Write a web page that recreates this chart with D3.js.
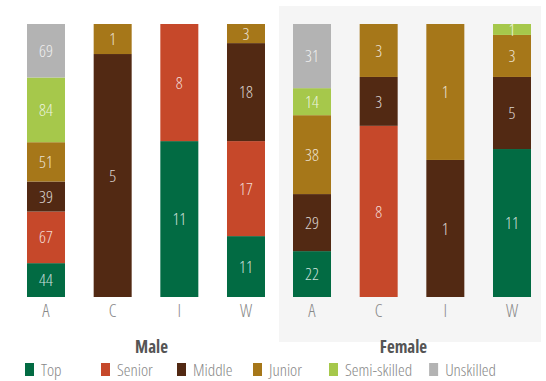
<!DOCTYPE html>
<html><head><meta charset="utf-8">
<script src="https://cdn.jsdelivr.net/npm/d3@7"></script>
<style>
html,body{margin:0;padding:0;background:#fff;}
svg{display:block;font-family:"Open Sans",sans-serif;font-stretch:82%;font-weight:300;}
</style></head>
<body><svg id="c" width="546" height="381"></svg>
<script>
const categories = ["A","C","I","W"];
const levels = ["Top","Senior","Middle","Junior","Semi-skilled","Unskilled"];
const colors = ["#026B43","#C6482A","#522913","#A67719","#A6C84B","#B3B3B3"];
const panels = ["Male","Female"];

// share of each bar (percent), per level, categories A,C,I,W
const maleTop       = [12.4, 0,    57.1, 22.3];
const maleSenior    = [18.9, 0,    42.9, 34.8];
const maleMiddle    = [11.0, 89.0, 0,    35.9];
const maleJunior    = [14.4, 11.0, 0,    7.0];
const maleSemi      = [23.7, 0,    0,    0];
const maleUnskilled = [19.6, 0,    0,    0];

const femaleTop       = [16.8, 0,    0,    54.2];
const femaleSenior    = [0,    62.7, 0,    0];
const femaleMiddle    = [20.9, 17.9, 50.2, 26.4];
const femaleJunior    = [28.9, 19.4, 49.8, 15.4];
const femaleSemi      = [9.9,  0,    0,    4.0];
const femaleUnskilled = [23.5, 0,    0,    0];

// counts shown as labels
const maleTopN       = [44, 0, 11, 11];
const maleSeniorN    = [67, 0, 8, 17];
const maleMiddleN    = [39, 5, 0, 18];
const maleJuniorN    = [51, 1, 0, 3];
const maleSemiN      = [84, 0, 0, 0];
const maleUnskilledN = [69, 0, 0, 0];

const femaleTopN       = [22, 0, 0, 11];
const femaleSeniorN    = [0, 8, 0, 0];
const femaleMiddleN    = [29, 3, 1, 5];
const femaleJuniorN    = [38, 3, 1, 3];
const femaleSemiN      = [14, 0, 0, 1];
const femaleUnskilledN = [31, 0, 0, 0];

const shares = {
  Male:   [maleTop, maleSenior, maleMiddle, maleJunior, maleSemi, maleUnskilled],
  Female: [femaleTop, femaleSenior, femaleMiddle, femaleJunior, femaleSemi, femaleUnskilled]
};
const counts = {
  Male:   [maleTopN, maleSeniorN, maleMiddleN, maleJuniorN, maleSemiN, maleUnskilledN],
  Female: [femaleTopN, femaleSeniorN, femaleMiddleN, femaleJuniorN, femaleSemiN, femaleUnskilledN]
};

const svg = d3.select("#c");
const y = d3.scaleLinear().domain([0,100]).range([297,24]);
const panelRanges = {Male:[12.67,279.33], Female:[278.67,545.33]};
const titleX = {Male:151.5, Female:403.5};

// female background
svg.append("rect").attr("x",279).attr("y",6).attr("width",262).attr("height",336).attr("fill","#f5f5f5");

panels.forEach(p => {
  const x = d3.scaleBand().domain(categories).range(panelRanges[p]).paddingInner(0.43).paddingOuter(0.215);
  const rows = categories.map((c,i) => {
    const r = {cat:c};
    levels.forEach((l,j) => { r[l] = shares[p][j][i]; r[l+"_n"] = counts[p][j][i]; });
    return r;
  });
  const stack = d3.stack().keys(levels)(rows);
  const g = svg.append("g");
  stack.forEach((s,j) => {
    s.forEach(d => {
      const v = d[1]-d[0];
      if (v <= 0) return;
      g.append("rect")
        .attr("x", x(d.data.cat)).attr("width", x.bandwidth())
        .attr("y", y(d[1])).attr("height", y(d[0]) - y(d[1]))
        .attr("fill", colors[j]);
      const n = d.data[levels[j]+"_n"];
      if (n) {
        g.append("text")
          .attr("x", x(d.data.cat) + x.bandwidth()/2)
          .attr("y", (y(d[0]) + y(d[1]))/2)
          .attr("dy","0.36em")
          .attr("text-anchor","middle")
          .attr("font-size",17)
          .attr("fill","#fff").attr("fill-opacity",0.8)
          .text(n);
      }
    });
  });
  const ax = svg.append("g").attr("transform","translate(0,304)")
    .call(d3.axisBottom(x).tickSize(0).tickPadding(0));
  ax.select(".domain").remove();
  ax.selectAll("text").attr("font-size",18).attr("fill","#888")
    .attr("font-family",'"Open Sans",sans-serif')
    .attr("dy","0.71em");
  svg.append("text").attr("x",titleX[p]).attr("y",353).attr("text-anchor","middle")
    .attr("font-size",17).attr("font-weight","bold").attr("fill","#555").text(p);
});

// legend
const lg = svg.append("g");
let lx = 25;
levels.forEach((l,j) => {
  const it = lg.append("g").attr("transform",`translate(${lx},363)`);
  it.append("rect").attr("width",9).attr("height",13).attr("fill",colors[j]);
  const t = it.append("text").attr("x",16).attr("y",12.5).attr("font-size",17).attr("fill","#888").text(l);
  const w = t.node().getComputedTextLength();
  lx = Math.max(lx + 76, lx + 16 + w + 17);
});
</script></body></html>
